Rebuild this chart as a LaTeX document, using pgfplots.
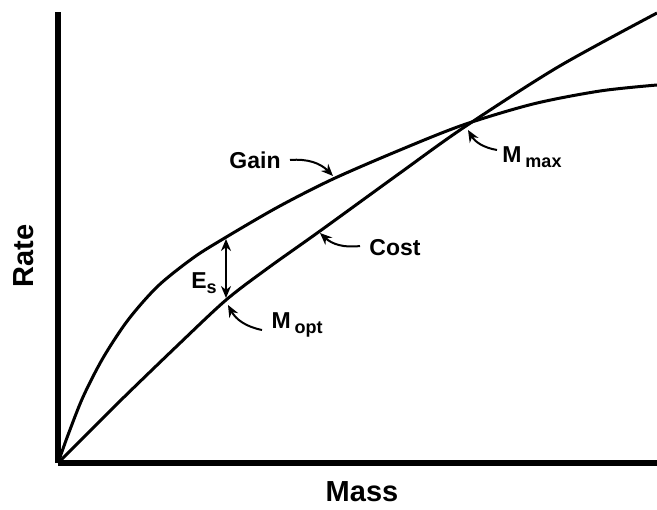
\documentclass[border=0pt]{standalone}
\usepackage{pgfplots}
\pgfplotsset{compat=1.18}
\usepackage{fontspec}
\setmainfont{Liberation Sans}
\usetikzlibrary{arrows.meta}

% one unit = one pixel of the reference, origin at the axis corner
\pgfplotstableread{
x y
0 0
10 28
25 66
45 105
70 143
100 177
135 205
165 224
220 256
275 284
342 313
405 338
475 359
542 372
599 378
}\gain

\pgfplotstableread{
x y
0 0
60 60
120 118
168 163
210 195
262 232
342 290
405 335
500 396
599 450
}\cost

\begin{document}
\begin{tikzpicture}[ann/.style={line width=1pt, -{Stealth[length=6pt,width=5pt]}}]
\begin{axis}[
  scale only axis,
  width=299.5pt, height=225.5pt,
  xmin=0, xmax=599, ymin=0, ymax=451,
  axis x line=bottom, axis y line=left,
  axis line style={line width=3pt, -},
  ticks=none,
  clip=false,
]
\addplot[black, line width=1.5pt, smooth, tension=0.5] table {\gain};
\addplot[black, line width=1.5pt, smooth, tension=0.5] table {\cost};

\begin{scope}[font=\bfseries\fontsize{11.5}{13}\selectfont]
\node at (axis cs:197,303) {Gain};
\draw[ann] (axis cs:232,303) to[bend left=25] (axis cs:275,287);
\node at (axis cs:337,215) {Cost};
\draw[ann] (axis cs:302,217) to[bend left=25] (axis cs:262,230);
\node at (axis cs:239,138) {M\,\raisebox{-0.45ex}{\fontsize{9}{10}\selectfont opt}};
\draw[ann] (axis cs:204,133) to[bend left=25] (axis cs:170,158);
\node at (axis cs:474,306) {M\,\raisebox{-0.45ex}{\fontsize{9}{10}\selectfont max}};
\draw[ann] (axis cs:439,313) to[bend left=25] (axis cs:410,333);
\node at (axis cs:146,180) {E\raisebox{-0.45ex}{\fontsize{9}{10}\selectfont s}};
\draw[line width=1pt, {Stealth[length=6pt,width=5pt]}-{Stealth[length=6pt,width=5pt]}] (axis cs:168,224) -- (axis cs:168,165);
\end{scope}

\node[rotate=90, font=\bfseries\fontsize{14.5}{16}\selectfont] at (axis cs:-34,207) {Rate};
\node[font=\bfseries\fontsize{14.5}{16}\selectfont] at (axis cs:304,-29) {Mass};

\coordinate (bl) at (axis cs:-58,-46);
\coordinate (tr) at (axis cs:599,451);
\end{axis}
\pgfresetboundingbox
\path[use as bounding box] (bl) rectangle ([yshift=6pt]tr);
\end{tikzpicture}
\end{document}
